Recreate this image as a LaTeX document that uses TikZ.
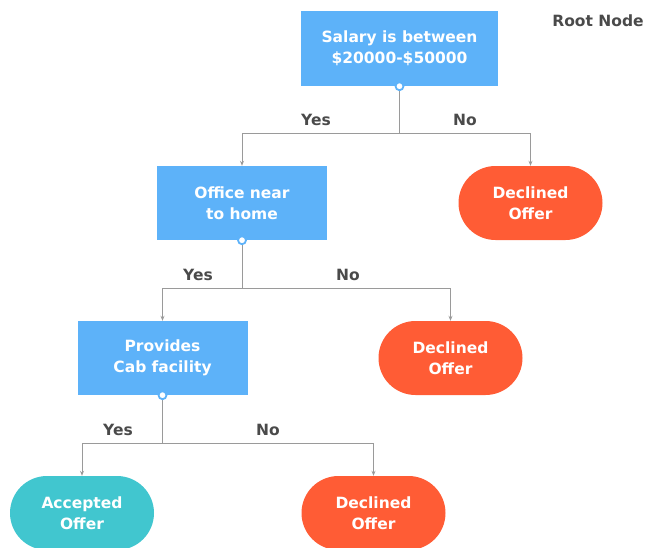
\documentclass[tikz,border=0pt]{standalone}
\usepackage{fontspec}
\setmainfont{DejaVu Sans}
\usetikzlibrary{arrows.meta}
\definecolor{boxblue}{HTML}{5DB2F9}
\definecolor{decl}{HTML}{FF5C35}
\definecolor{acc}{HTML}{41C6CF}
\definecolor{lbl}{HTML}{4A4A4A}
\definecolor{ln}{HTML}{9A9A9A}
\tikzset{
  base/.style={font=\bfseries\fontsize{15.5}{21}\selectfont, text=white, align=center, inner sep=0pt},
  dbox/.style={base, fill=boxblue, minimum width=170pt, minimum height=74pt},
  pill/.style={base, rounded corners=37pt, minimum width=144pt, minimum height=74pt},
  declbox/.style={pill, fill=decl},
  accbox/.style={pill, fill=acc},
  lab/.style={font=\bfseries\fontsize{15.5}{18}\selectfont, text=lbl, inner sep=0pt},
  conn/.style={draw=ln, line width=0.9pt},
  arr/.style={conn, -{Stealth[length=5pt,width=4pt]}},
  dot/.style={circle, draw=boxblue, fill=white, line width=1.8pt, minimum size=8pt, inner sep=0pt},
}
\begin{document}
\begin{tikzpicture}[x=1pt,y=-1pt]
\useasboundingbox (0,0) rectangle (646,547);
% nodes
\node[dbox, minimum width=197pt, minimum height=75pt] (root) at (399.5,48.5) {Salary is between\\\$20000-\$50000};
\node[dbox] (office) at (242,203) {Office near\\to home};
\node[declbox] (dec1) at (530.5,203) {Declined\\Offer};
\node[dbox] (cab) at (162.5,358) {Provides\\Cab facility};
\node[declbox] (dec2) at (450.5,358) {Declined\\Offer};
\node[accbox] (accp) at (82,513) {Accepted\\Offer};
\node[declbox] (dec3) at (373.5,513) {Declined\\Offer};
\node[lab] (rootlab) at (598,21) {Root Node};
% junctions
\coordinate (j1) at (399.5,133);
\coordinate (j2) at (242,288);
\coordinate (j3) at (162.5,443);
% connectors
\draw[conn] (root.south) -- (j1);
\draw[arr] (j1) -| (office.north);
\draw[arr] (j1) -| (dec1.north);
\draw[conn] (office.south) -- (j2);
\draw[arr] (j2) -| (cab.north);
\draw[arr] (j2) -| (dec2.north);
\draw[conn] (cab.south) -- (j3);
\draw[arr] (j3) -| (accp.north);
\draw[arr] (j3) -| (dec3.north);
% dots
\node[dot] (d1) at (root.south) {};
\node[dot] (d2) at (office.south) {};
\node[dot] (d3) at (cab.south) {};
% labels
\node[lab] (y1) at (316,120) {Yes};
\node[lab] (n1) at (465,120) {No};
\node[lab] (y2) at (198,275) {Yes};
\node[lab] (n2) at (348,275) {No};
\node[lab] (y3) at (118,430) {Yes};
\node[lab] (n3) at (268,430) {No};
\end{tikzpicture}
\end{document}
